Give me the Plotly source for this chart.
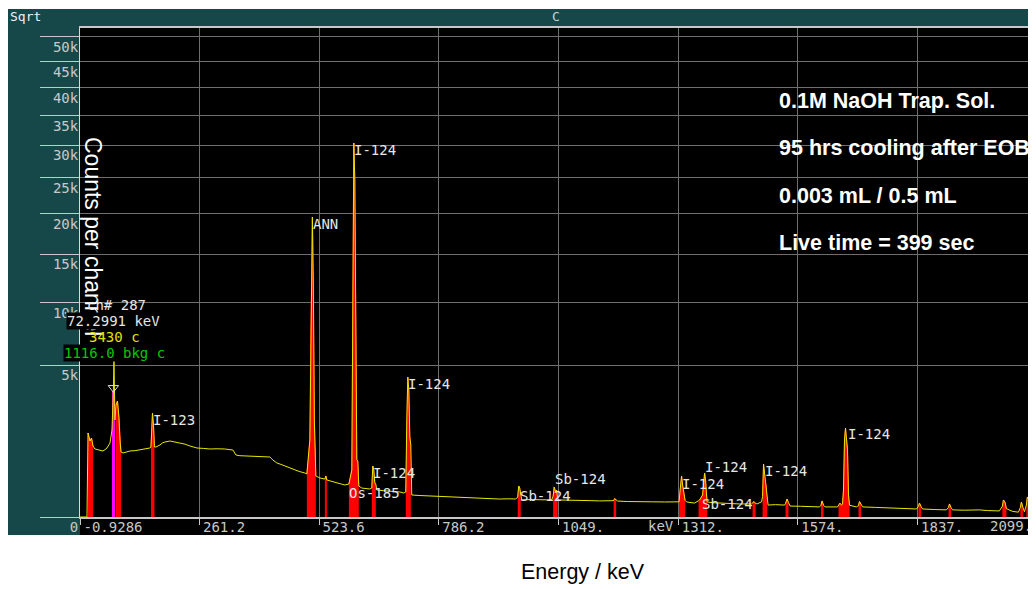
import numpy as np
import plotly.graph_objects as go

# ---------------- data ----------------
energy_kev = [
    -0.93, 14.4, 16.6, 18.8, 21.0, 24.3, 27.6, 32.0, 37.5, 43.0, 49.5, 54.0, 58.3, 64.9, 69.2,
    72.3, 73.6, 75.8, 78.0, 81.3, 84.6, 86.8, 89.0, 93.4, 100.0, 108.7, 120.0, 130.7, 140.0,
    152.6, 154.8, 158.1, 160.3, 162.4, 165.7, 174.5, 180.0, 185.5, 196.4, 205.0, 218.4, 230.0,
    240.3, 255.6, 270.0, 284.2, 300.0, 317.0, 334.6, 341.2, 350.0, 360.9, 380.0, 400.0, 415.7,
    422.3, 431.1, 440.0, 448.6, 460.0, 470.6, 480.0, 492.5, 496.9, 503.5, 505.7, 509.0, 511.2,
    513.3, 516.6, 525.4, 536.4, 538.6, 540.8, 548.0, 558.3, 570.0, 580.3, 589.1, 595.6, 597.8,
    600.0, 602.1, 604.3, 606.5, 608.7, 610.9, 617.5, 635.0, 639.4, 641.6, 643.8, 646.0, 648.2,
    650.4, 665.0, 679.0, 700.9, 709.7, 714.0, 716.2, 718.4, 720.6, 722.8, 725.0, 727.1, 745.0,
    766.6, 790.0, 810.5, 840.0, 865.3, 890.0, 920.1, 940.0, 955.2, 959.6, 961.8, 964.0, 966.2,
    968.4, 990.0, 1007.8, 1020.0, 1034.2, 1037.4, 1039.6, 1042.9, 1045.1, 1047.3, 1070.0,
    1095.6, 1120.0, 1139.4, 1167.9, 1170.1, 1172.3, 1175.6, 1178.9, 1200.0, 1227.1, 1255.0,
    1281.9, 1300.0, 1313.7, 1316.0, 1319.2, 1321.4, 1324.7, 1326.9, 1330.2, 1347.7, 1356.5,
    1358.7, 1365.3, 1369.7, 1371.8, 1375.1, 1390.0, 1402.6, 1425.0, 1446.5, 1472.8, 1475.0,
    1478.2, 1481.5, 1484.8, 1494.7, 1496.9, 1499.1, 1502.4, 1504.6, 1506.8, 1509.0, 1525.0,
    1545.2, 1547.4, 1550.6, 1553.9, 1557.2, 1580.0, 1600.0, 1621.9, 1625.2, 1627.4, 1630.7,
    1634.0, 1661.4, 1663.5, 1666.8, 1670.2, 1672.3, 1674.5, 1676.7, 1678.9, 1681.1, 1683.3,
    1685.5, 1687.7, 1703.0, 1707.4, 1709.6, 1712.9, 1716.2, 1745.0, 1775.4, 1805.0, 1834.6,
    1839.0, 1841.2, 1844.5, 1847.8, 1875.0, 1900.5, 1904.9, 1907.1, 1910.4, 1913.6, 1940.0,
    1972.8, 1990.0, 2016.6, 2023.2, 2025.4, 2028.7, 2032.0, 2045.0, 2058.3, 2062.7, 2064.9,
    2068.2, 2071.5, 2075.8, 2078.0, 2081.4, 2084.6, 2097.0,
]
counts = [
    0, 0, 1530, 1423, 1253, 1354, 1094, 1003, 990, 974, 945, 985, 1033, 1188, 1642,
    3430, 5280, 2041, 2721, 2919, 2126, 1286, 917, 889, 920, 945, 955, 974, 1000,
    1033, 1063, 2346, 1836, 1063, 1063, 1124, 1190, 1220, 1253, 1225, 1188, 1150,
    1094, 1033, 1020, 1003, 1010, 1003, 974, 834, 815, 807, 795, 790, 781,
    705, 633, 600, 564, 520, 479, 450, 420, 401, 1286, 7587, 19520, 11180,
    2041, 365, 330, 313, 365, 297, 285, 266, 240, 222, 236, 479, 10216,
    30340, 24650, 4072, 705, 680, 208, 182, 170, 182, 564, 479, 251, 236,
    158, 150, 147, 136, 125, 136, 2041, 4252, 3499, 1388, 1124, 105, 100,
    96, 90, 87, 82, 78, 74, 70, 72, 70, 87, 208, 182, 96,
    63, 66, 63, 60, 63, 96, 195, 136, 158, 63, 60,
    56, 58, 56, 56, 58, 74, 60, 55, 52, 49, 50,
    49, 48, 50, 158, 365, 222, 125, 60, 49, 42, 58,
    63, 105, 420, 297, 49, 44, 42, 40, 37, 37, 45,
    52, 40, 37, 50, 90, 609, 297, 222, 60, 31, 33,
    31, 40, 70, 45, 26, 25, 24, 22, 30, 56, 30,
    22, 22, 28, 42, 30, 35, 158, 1286, 1718, 1124, 974,
    105, 30, 22, 28, 52, 35, 22, 20, 18, 16, 14,
    25, 42, 25, 14, 12, 11, 20, 37, 20, 11, 10,
    11, 9, 8, 25, 63, 49, 15, 7, 5, 20, 49,
    20, 6, 30, 87, 63, 10, 8,
]

# regions of interest (keV) drawn in red
roi_lo = [16, 77, 154, 496, 536, 589, 639, 713, 959, 1037, 1169, 1313, 1356, 1474, 1496,
          1547, 1625, 1663, 1707, 1838, 1904, 2023, 2062, 2075]
roi_hi = [30, 90, 163, 517, 541, 611, 649, 726, 967, 1048, 1176, 1327, 1376, 1482, 1507,
          1554, 1631, 1688, 1713, 1845, 1911, 2033, 2069, 2085]

cursor_channel = 287
cursor_energy = 72.2991
cursor_counts = 3430
cursor_bkg = 1116.0

peak_labels = ["I-123", "ANN", "I-124", "I-124", "I-124", "Os-185", "Sb-124", "Sb-124",
               "I-124", "I-124", "Sb-124", "I-124", "I-124"]
peak_label_kev = [159.2, 510.0, 600.0, 718.4, 641.6, 589.0, 964.0, 1040.7,
                  1319.2, 1369.7, 1363.1, 1501.3, 1683.3]
peak_label_counts = [2041, 18630, 29210, 3838, 420, 125, 96, 313,
                     236, 542, 37, 459, 1495]

x_tick_vals = [-0.9286, 261.2, 523.6, 786.2, 1049, 1312, 1574, 1837, 2099]
x_tick_text = ["-0.9286", "261.2", "523.6", "786.2", "1049.", "1312.", "1574.", "1837.", "2099."]
y_tick_counts = [0, 5000, 10000, 15000, 20000, 25000, 30000, 35000, 40000, 45000, 50000]
y_tick_text = ["0", "5k", "10k", "15k", "20k", "25k", "30k", "35k", "40k", "45k", "50k"]

info_lines = ["0.1M NaOH Trap. Sol.", "95 hrs cooling after EOB",
              "0.003 mL / 0.5 mL", "Live time = 399 sec"]

# ---------------- figure ----------------
W, H = 1036, 589
L, R, T, B = 72, 0, 20, 80
PW, PH = W - L - R, H - T - B
OFF = 8  # page offset of the figure in the screenshot


def px(page_x):
    return (page_x - OFF - L) / PW


def py(page_y):
    return (H - B - (page_y - OFF)) / PH


E = np.array(energy_kev)
C = np.array(counts, dtype=float)
S = np.sqrt(C)

MONO = "DejaVu Sans Mono, monospace"
SANS = "Liberation Sans Narrow, Arial Narrow, Liberation Sans, Arial, sans-serif"
TEAL = "#16484a"
GRID = "#6e6e6e"
LIGHT = "#c8c8c8"

fig = go.Figure()

for lo, hi in zip(roi_lo, roi_hi):
    m = (E >= lo) & (E <= hi)
    fig.add_trace(go.Scatter(x=E[m], y=S[m], mode="lines", fill="tozeroy",
                             fillcolor="#ff0000", line=dict(color="#ff0000", width=1),
                             hoverinfo="skip"))

fig.add_trace(go.Scatter(x=E, y=S, mode="lines", line=dict(color="#e8e800", width=1),
                         hoverinfo="skip"))

fig.add_trace(go.Bar(x=[cursor_energy], y=[np.sqrt(cursor_counts)], width=[6],
                     marker=dict(color="#ff00ff", line=dict(width=0)), hoverinfo="skip"))

fig.add_trace(go.Scatter(x=[cursor_energy], y=[np.sqrt(cursor_counts) + 1.6], mode="markers",
                         marker=dict(symbol="triangle-down-open", size=9,
                                     color="#e0e0e0", line=dict(width=1, color="#e0e0e0")),
                         hoverinfo="skip"))

shapes = [
    dict(type="rect", xref="paper", yref="paper", x0=px(8), x1=px(1044), y0=py(535), y1=py(9),
         fillcolor=TEAL, line=dict(width=0), layer="below"),
    dict(type="rect", xref="paper", yref="paper", x0=0, x1=1, y0=py(535), y1=1,
         fillcolor="black", line=dict(width=0), layer="below"),
]

annotations = []
for txt, ek, ck in zip(peak_labels, peak_label_kev, peak_label_counts):
    annotations.append(dict(x=ek, y=np.sqrt(ck), xref="x", yref="y", text=txt, showarrow=False,
                            xanchor="left", yanchor="middle", xshift=-2,
                            font=dict(family=MONO, size=14, color="#e6e6e6")))

annotations.append(dict(x=px(1034), y=py(526), xref="paper", yref="paper", text=x_tick_text[-1],
                        showarrow=False, xanchor="right", yanchor="middle",
                        font=dict(family=MONO, size=14, color=LIGHT)))
annotations.append(dict(x=x_tick_vals[5], y=py(526), xref="x", yref="paper", text="keV",
                        showarrow=False, xanchor="right", yanchor="middle", xshift=-2,
                        font=dict(family=MONO, size=14, color=LIGHT)))

annotations.append(dict(x=px(93), y=py(236), xref="paper", yref="paper",
                        text="Counts per channel", textangle=90, showarrow=False,
                        xanchor="center", yanchor="middle",
                        font=dict(family=SANS, size=23, color="white")))

cursor_text = [
    (f"ch# {cursor_channel}", 86, 305, "#e6e6e6", None),
    (f"{cursor_energy:.4f} keV", 66, 321, "#e6e6e6", "black"),
    (f"{cursor_counts} c", 88, 337, "#e0e000", None),
    (f"{cursor_bkg:.1f} bkg c", 63, 353, "#00c800", "black"),
]
for txt, xl, yc, col, bg in cursor_text:
    a = dict(x=px(xl), y=py(yc), xref="paper", yref="paper", text=txt, showarrow=False,
             xanchor="left", yanchor="middle", borderpad=0,
             font=dict(family=MONO, size=14, color=col))
    if bg:
        a["bgcolor"] = bg
    annotations.append(a)

for i, line in enumerate(info_lines):
    annotations.append(dict(x=px(777), y=py(101 + 47.3 * i), xref="paper", yref="paper",
                            text=f"<b>{line}</b>", showarrow=False, xanchor="left",
                            yanchor="middle",
                            font=dict(family=SANS, size=21.5, color="white")))

annotations.append(dict(x=px(8), y=py(17), xref="paper", yref="paper", text="Sqrt",
                        showarrow=False, xanchor="left", yanchor="middle",
                        font=dict(family=MONO, size=13, color="#f0f0f0")))
annotations.append(dict(x=px(556), y=py(17), xref="paper", yref="paper", text="C",
                        showarrow=False, xanchor="center", yanchor="middle",
                        font=dict(family=MONO, size=13, color="#d0d0d0")))
annotations.append(dict(x=px(583), y=py(572), xref="paper", yref="paper", text="Energy / keV",
                        showarrow=False, xanchor="center", yanchor="middle",
                        font=dict(family=SANS, size=21.5, color="black")))

x_right = -0.93 + PW / 0.4557

fig.update_layout(
    width=W, height=H, margin=dict(l=L, r=R, t=T, b=B, pad=0),
    paper_bgcolor="white", plot_bgcolor="black", showlegend=False,
    shapes=shapes, annotations=annotations, bargap=0,
    xaxis=dict(range=[-0.93, x_right], tickvals=x_tick_vals[:-1], ticktext=x_tick_text[:-1],
               ticks="outside", ticklen=6, tickcolor=LIGHT, tickwidth=1,
               ticklabelposition="outside right", ticklabelshift=2, ticklabelstandoff=-4,
               tickfont=dict(family=MONO, size=14, color=LIGHT),
               showgrid=True, gridcolor=GRID, gridwidth=1, zeroline=False,
               showline=True, linecolor=LIGHT, linewidth=2, mirror=True, fixedrange=True),
    yaxis=dict(range=[0, 227.76], tickvals=list(np.sqrt(y_tick_counts)), ticktext=y_tick_text,
               ticks="outside", ticklen=39, tickcolor=LIGHT, tickwidth=1,
               ticklabelposition="outside bottom", ticklabelstandoff=-2,
               tickfont=dict(family=MONO, size=14, color=LIGHT),
               showgrid=True, gridcolor=GRID, gridwidth=1, zeroline=False,
               showline=True, linecolor="#d8d8d8", linewidth=1, fixedrange=True),
)

fig.write_html("out.html")
